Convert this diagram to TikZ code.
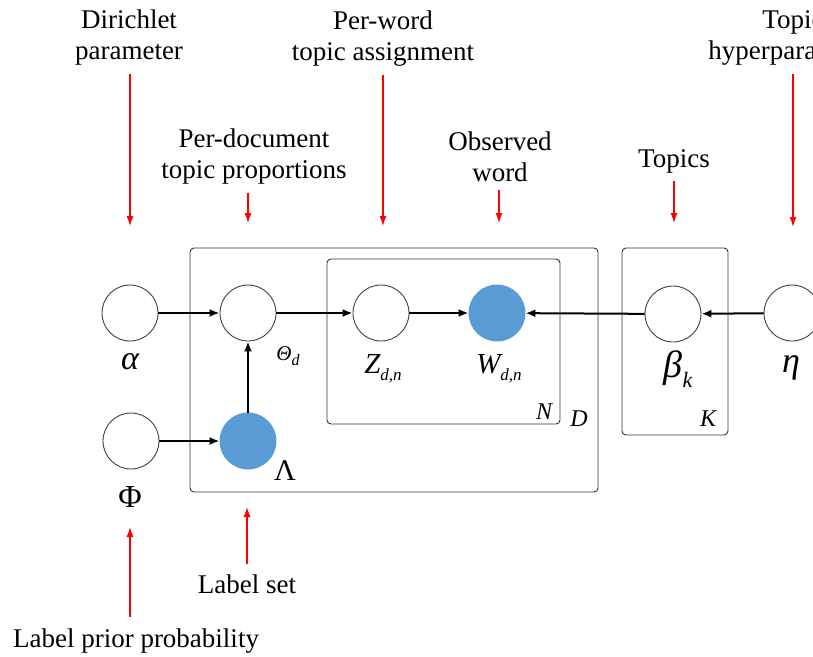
\documentclass[tikz,border=0pt]{standalone}
\usepackage{fontspec}
\setmainfont{Liberation Serif}
\usetikzlibrary{arrows.meta}
\definecolor{obsblue}{HTML}{5B9BD5}
\newcommand{\lowidx}[2][16]{\raisebox{-0.25em}{\fontsize{#1}{#1}\selectfont\itshape #2}}

\begin{document}
\begin{tikzpicture}[x=1pt,y=-1pt,var/.style={circle,draw=black!75,line width=0.9pt,minimum size=56pt,inner sep=0pt,fill=white},obs/.style={var,draw=obsblue,fill=obsblue},plate/.style={draw=black!80,line width=0.9pt,rounded corners=4pt},arr/.style={-{Latex[length=10pt,width=8pt]},line width=2pt},rarr/.style={-{Latex[length=10pt,width=7pt]},red,line width=1.2pt},txt/.style={align=center,inner sep=0pt,font=\fontsize{27}{31}\selectfont},sym/.style={inner sep=0pt,font=\fontsize{#1}{#1}\selectfont\itshape},sym/.default=30,upsym/.style={inner sep=0pt,font=\fontsize{#1}{#1}\selectfont}]
\clip (0,0) rectangle (813,656);
% plates
\draw[plate] (190,248) rectangle (598,492);
\draw[plate] (327,259) rectangle (560,424);
\draw[plate] (622,248) rectangle (728,435);
\node[sym=24] (nlab) at (544,412) {N};
\node[sym=24] (dlab) at (579,419) {D};
\node[sym=24] (klab) at (708,419) {K};
% variables
\node[var] (alpha) at (130,313) {};
\node[var] (theta) at (248,313) {};
\node[var] (phi) at (131,441) {};
\node[obs] (lambda) at (248,441) {};
\node[var] (z) at (381,313) {};
\node[obs] (w) at (497,313) {};
\node[var] (beta) at (673,314) {};
\node[var] (eta) at (792,313) {};
\node[sym=34] (alphalab) at (130,362) {α};
\node[sym=21] (thetalab) at (288,356) {Θ\lowidx{d}};
\node[sym=29] (zlab) at (383,369) {Z\lowidx[17]{d,n}};
\node[sym=29] (wlab) at (499,369) {W\lowidx[17]{d,n}};
\node[upsym=30] (lambdalab) at (285,471) {Λ};
\node[upsym=32] (philab) at (130,497) {Φ};
\node[sym=38] (betalab) at (678,369) {β\lowidx[22]{k}};
\node[sym=36] (etalab) at (791,368) {η};
% edges
\draw[arr] (alpha)--(theta);
\draw[arr] (phi)--(lambda);
\draw[arr] (lambda)--(theta);
\draw[arr] (theta)--(z);
\draw[arr] (z)--(w);
\draw[arr] (beta)--(w);
\draw[arr] (eta)--(beta);
% annotations
\node[txt] (dirtxt) at (129,38) {Dirichlet\\parameter};
\node[txt] (pdtxt) at (254,157) {Per-document\\topic proportions};
\node[txt] (pwtxt) at (383,39) {Per-word\\topic assignment};
\node[txt] (obstxt) at (500,157) {Observed\\word};
\node[txt] (toptxt) at (674,161) {Topics};
\node[txt] (hyptxt) at (793,38) {Topic\\hyperparameter};
\node[txt] (settxt) at (247,584) {Label set};
\node[txt] (priortxt) at (136,641) {Label prior probability};
\coordinate (dirtip) at (130,226);
\coordinate (pdtip) at (248,223);
\coordinate (pwtip) at (383,226);
\coordinate (obstip) at (499,223);
\coordinate (toptip) at (674,223);
\coordinate (hyptip) at (793,227);
\coordinate (settip) at (247,507);
\coordinate (priortip) at (130,527);
\draw[rarr,shorten <=8pt] (dirtxt.south-|dirtip)--(dirtip);
\draw[rarr,shorten <=8pt] (pdtxt.south-|pdtip)--(pdtip);
\draw[rarr,shorten <=8pt] (pwtxt.south-|pwtip)--(pwtip);
\draw[rarr,shorten <=8pt] (obstxt.south-|obstip)--(obstip);
\draw[rarr,shorten <=8pt] (toptxt.south-|toptip)--(toptip);
\draw[rarr,shorten <=8pt] (hyptxt.south-|hyptip)--(hyptip);
\draw[rarr,shorten <=10pt] (settxt.north-|settip)--(settip);
\draw[rarr,shorten <=12pt] (priortxt.north-|priortip)--(priortip);
\end{tikzpicture}
\end{document}
